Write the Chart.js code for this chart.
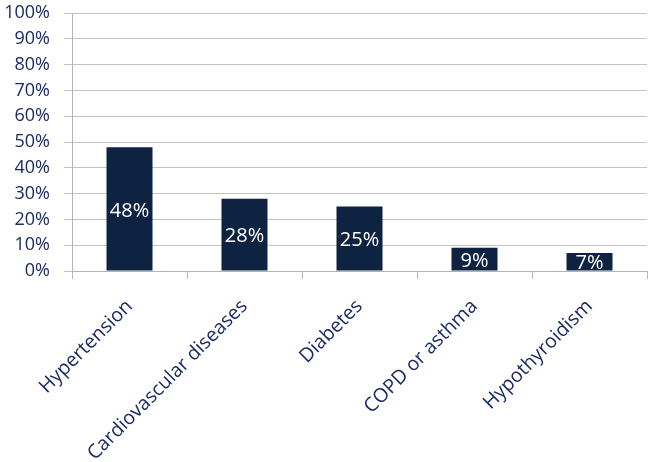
<!DOCTYPE html>
<html>
<head>
<meta charset="utf-8">
<script src="https://cdn.jsdelivr.net/npm/chart.js@4/dist/chart.umd.min.js"></script>
<style>
  body { margin: 0; background: #fff; }
</style>
</head>
<body>
<canvas id="myChart" width="649" height="462"></canvas>
<script>
// datos del gráfico
const categories = ['Hypertension', 'Cardiovascular diseases', 'Diabetes', 'COPD or asthma', 'Hypothyroidism'];
const values = [48, 28, 25, 9, 7];
const yTicks = [0, 10, 20, 30, 40, 50, 60, 70, 80, 90, 100];

const textColor = '#1b2a63';
const barColor = '#0e2341';
const fontFamily = "'Open Sans', 'Noto Sans', sans-serif";

// etiquetas blancas centradas dentro de las barras
const barLabels = {
    id: 'barLabels',
    afterDatasetsDraw(chart) {
        const ctx = chart.ctx;
        const meta = chart.getDatasetMeta(0);
        ctx.save();
        ctx.fillStyle = '#ffffff';
        ctx.font = '20px ' + fontFamily;
        ctx.textAlign = 'center';
        ctx.textBaseline = 'middle';
        meta.data.forEach((bar, i) => {
            const y = (bar.base + bar.y) / 2 + 2;
            ctx.fillText(values[i] + '%', bar.x, y);
        });
        ctx.restore();
    }
};

const ctx = document.getElementById('myChart').getContext('2d');
const myChart = new Chart(ctx, {
    type: 'bar',
    data: {
        labels: categories,
        datasets: [{
            data: values,
            backgroundColor: barColor,
            borderWidth: 0,
            categoryPercentage: 1,
            barPercentage: 0.4
        }]
    },
    options: {
        responsive: false,
        animation: false,
        layout: { padding: { top: 13, right: 2, left: 0, bottom: 0 } },
        plugins: {
            legend: { display: false },
            tooltip: { enabled: false }
        },
        scales: {
            x: {
                offset: true,
                afterFit: (scale) => { scale.height = 191; },
                grid: {
                    offset: true,
                    drawOnChartArea: false,
                    drawTicks: true,
                    tickLength: 8,
                    color: '#b5b5b5'
                },
                border: { color: '#b5b5b5' },
                ticks: {
                    color: textColor,
                    minRotation: 45,
                    maxRotation: 45,
                    padding: 16,
                    autoSkip: false,
                    font: { size: 19.5, family: fontFamily }
                }
            },
            y: {
                min: 0,
                max: 100,
                afterFit: (scale) => {
                    scale.width = 72;
                    scale.paddingTop = 0;
                    scale.paddingBottom = 0;
                },
                afterBuildTicks: (scale) => {
                    scale.ticks = yTicks.map(v => ({ value: v }));
                },
                grid: {
                    color: '#c3c3c3',
                    tickLength: 8
                },
                border: { color: '#b5b5b5' },
                ticks: {
                    color: textColor,
                    padding: 14,
                    font: { size: 18, family: fontFamily },
                    callback: (v) => v + '%'
                }
            }
        }
    },
    plugins: [barLabels]
});
</script>
</body>
</html>
